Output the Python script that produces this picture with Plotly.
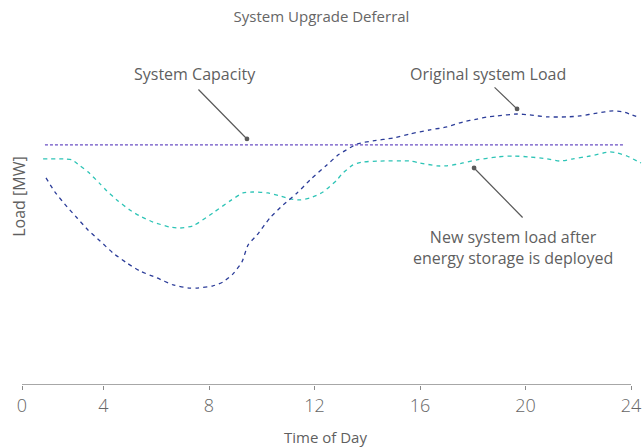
import plotly.graph_objects as go

# hours of day and load in arbitrary MW units
original_hours = [1.82, 2.16, 2.62, 3.00, 3.41, 3.87, 4.36, 4.89, 5.38, 6.03, 6.64, 7.24, 7.55,
                  8.15, 8.53, 8.91, 9.25, 9.48, 9.82, 10.31, 10.81, 11.34, 11.83, 12.47, 12.89,
                  13.08, 13.61, 14.22, 14.98, 15.62, 16.38, 17.02, 17.63, 18.16, 18.58, 18.92,
                  19.68, 20.17, 20.82, 21.57, 22.07, 22.71, 23.32, 23.70, 24.04, 24.34]
original_load = [86.3, 80.4, 74.2, 69.6, 64.6, 60.0, 55.0, 50.8, 47.5, 44.6, 41.7, 40.4, 40.4,
                 41.3, 42.9, 46.3, 51.3, 58.3, 62.5, 69.6, 75.0, 80.0, 85.4, 91.7, 95.8,
                 97.1, 100.4, 101.7, 102.9, 104.6, 106.3, 107.5, 109.6, 110.8, 111.7, 112.1,
                 112.9, 112.5, 111.7, 111.7, 112.1, 113.3, 114.2, 113.8, 112.5, 111.3]

new_hours = [1.71, 2.54, 2.81, 3.11, 3.41, 3.87, 4.13, 4.55, 5.00, 5.38, 5.88, 6.52, 6.90,
             7.39, 8.15, 8.80, 9.29, 9.67, 10.24, 10.69, 11.07, 11.45, 11.83, 12.32, 12.85,
             13.04, 13.46, 13.84, 14.48, 15.62, 16.00, 16.64, 17.02, 17.63, 18.16, 18.92,
             19.53, 20.17, 20.82, 21.31, 21.80, 22.45, 23.20, 23.47, 23.85, 24.23, 24.38]
new_load = [94.2, 94.2, 93.8, 91.3, 88.8, 83.8, 80.8, 76.7, 72.9, 70.4, 67.9, 65.8, 65.4,
            66.3, 71.7, 76.7, 80.0, 80.4, 80.0, 78.8, 77.5, 77.1, 77.9, 80.4, 85.4,
            87.9, 91.7, 92.9, 93.3, 93.3, 92.5, 91.3, 91.3, 92.5, 93.8, 95.0,
            95.4, 95.0, 94.2, 93.3, 94.2, 95.4, 97.1, 96.7, 95.4, 93.3, 92.5]

capacity_hours = [1.78, 23.70]
capacity_load = [100, 100]

tick_vals = [0.91, 4, 8, 12, 16, 20, 24]
tick_text = ["0", "4", "8", "12", "16", "20", "24"]

FONT = "Open Sans"
GREY = "#666666"

fig = go.Figure()
fig.add_trace(go.Scatter(x=capacity_hours, y=capacity_load, mode="lines", name="System Capacity",
                         line=dict(color="#6a4fc4", width=1.3, dash="3px,2px")))
fig.add_trace(go.Scatter(x=new_hours, y=new_load, mode="lines", name="New system load",
                         line=dict(color="#2ec4b6", width=1.3, dash="4px,4px", shape="spline", smoothing=0.6)))
fig.add_trace(go.Scatter(x=original_hours, y=original_load, mode="lines", name="Original system Load",
                         line=dict(color="#2c3d99", width=1.3, dash="4px,4px", shape="spline", smoothing=0.6)))

# axis baseline from the "0" tick to the "24" tick
fig.add_shape(type="line", xref="x", yref="y", x0=tick_vals[0], x1=tick_vals[-1], y0=0, y1=0,
              line=dict(color="#8a8a8a", width=1.5))

arrow = dict(showarrow=True, arrowhead=6, arrowsize=1, arrowwidth=1.2, arrowcolor="#5a5a5a", text="")
text_style = dict(showarrow=False, font=dict(family=FONT, size=16, color="#5f5f5f"))

fig.add_annotation(x=9.44, y=102.5, ax=-50, ay=-51, **arrow)
fig.add_annotation(x=9.4, y=102.5, xshift=-51, yshift=65, text="System Capacity", **text_style)

fig.add_annotation(x=19.68, y=115, ax=-24, ay=-23, **arrow)
fig.add_annotation(x=19.68, y=115, xshift=-29, yshift=35, text="Original system Load", **text_style)

fig.add_annotation(x=18.05, y=90.4, ax=50, ay=51, **arrow)
fig.add_annotation(x=18.05, y=90.4, xshift=39, yshift=-79,
                   text="New system load after<br>energy storage is deployed", **text_style)

fig.add_annotation(xref="paper", yref="paper", x=-0.006, y=0.58, xanchor="center", yanchor="middle",
                   text="Load [MW]", textangle=-90, **text_style)
fig.add_annotation(xref="paper", yref="paper", x=0.488, y=-0.16, xanchor="center", yanchor="middle",
                   text="Time of Day", showarrow=False,
                   font=dict(family=FONT, size=15, color="#5f5f5f"))

fig.update_layout(
    title=dict(text="System Upgrade Deferral", x=0.5, y=0.962, xanchor="center", yanchor="middle",
               font=dict(family=FONT, size=15, color=GREY)),
    width=643, height=447,
    margin=dict(l=22, r=0, t=60, b=62),
    plot_bgcolor="white", paper_bgcolor="white",
    showlegend=False,
    font=dict(family=FONT, color=GREY),
    xaxis=dict(range=[0.91, 24.455], tickvals=tick_vals, ticktext=tick_text, showgrid=False,
               zeroline=False, showline=False, ticks="outside", ticklen=4, tickcolor="#8a8a8a",
               tickfont=dict(family=FONT, size=18, color=GREY, weight=300)),
    yaxis=dict(range=[0, 135.4], showgrid=False, zeroline=False, showticklabels=False,
               showline=False),
)

fig.write_html("out.html", config={"displayModeBar": False},
               post_script="document.body.style.margin='0';")
